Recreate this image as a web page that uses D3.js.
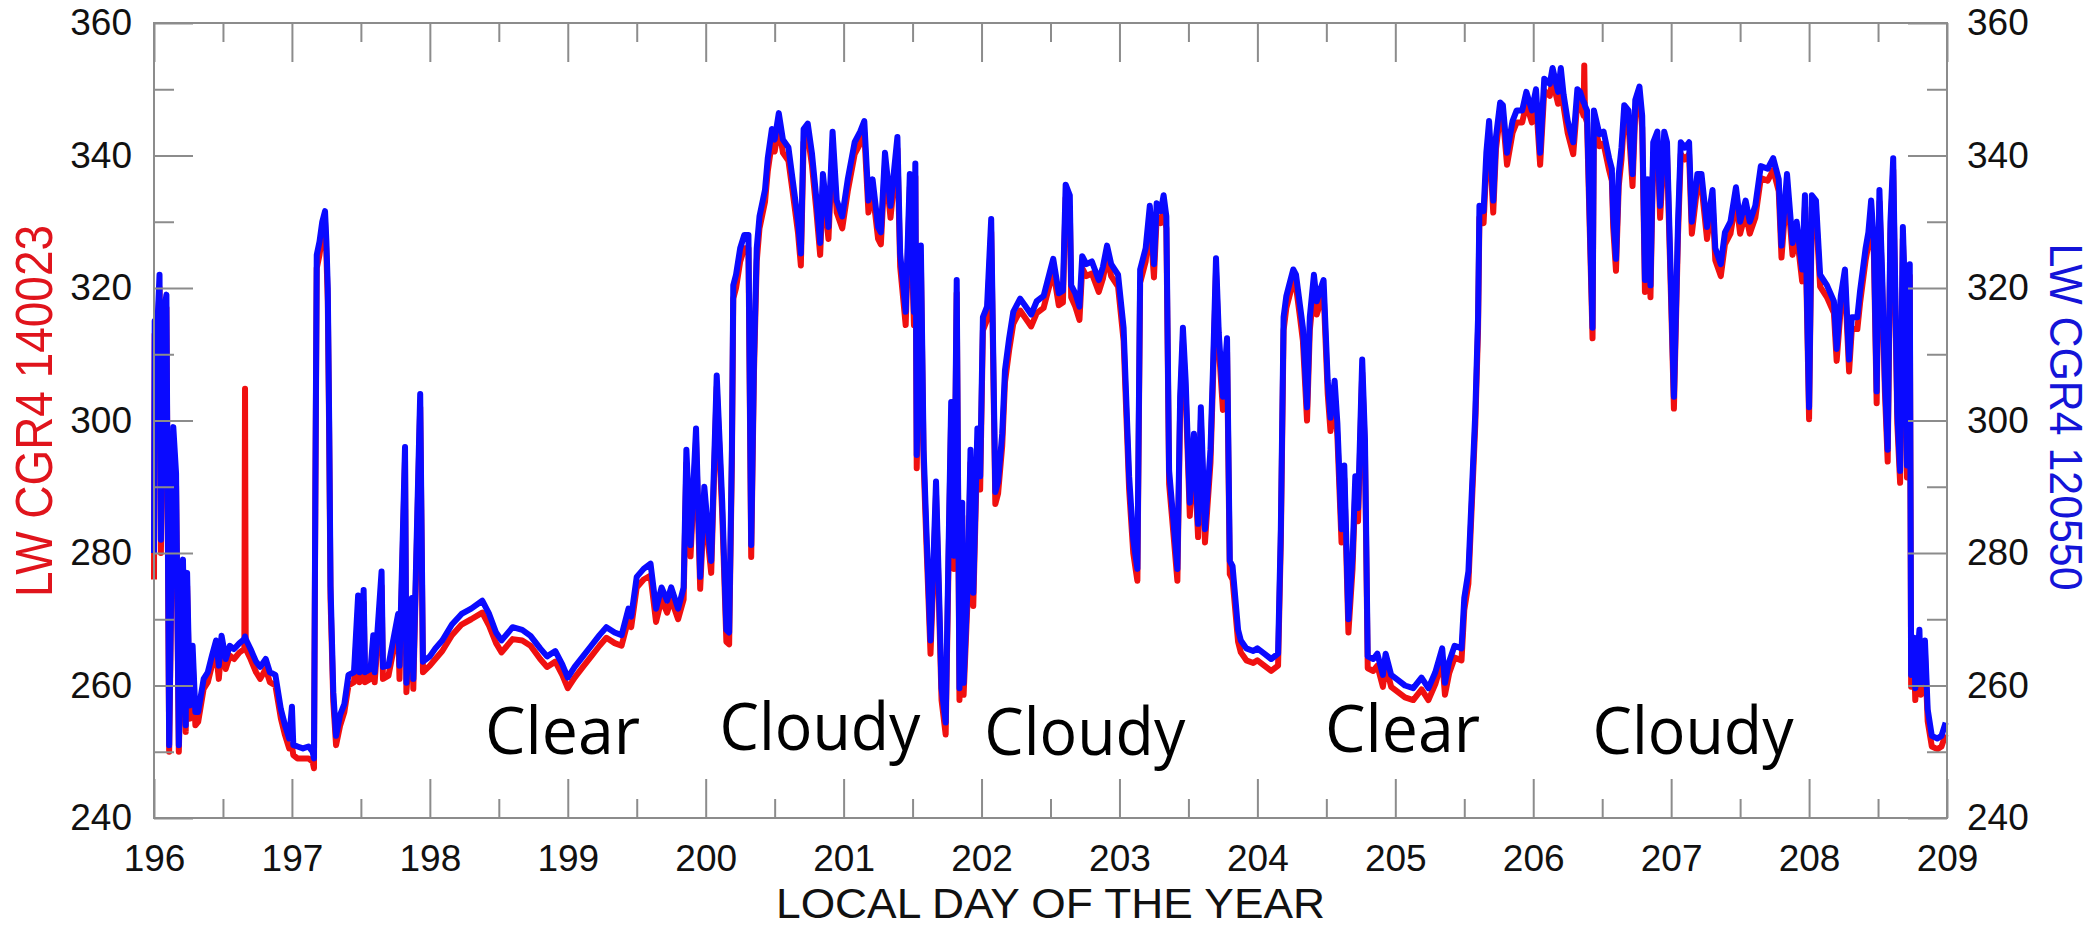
<!DOCTYPE html>
<html>
<head>
<meta charset="utf-8">
<script src="https://cdn.jsdelivr.net/npm/d3@7"></script>
<style>
  body { margin: 0; background: #fff; }
  svg { display: block; }
</style>
</head>
<body>
<svg id="chart"></svg>
<script>
// local day of year
const days = [
  196.000,196.005,196.02,196.04,196.05,196.07,196.09,196.11,196.14,196.16,196.18,196.21,196.23,196.24,196.26,196.28,196.30,196.32,196.36,196.39,
  196.42,196.45,196.47,196.49,196.52,196.55,196.58,196.62,196.655,196.66,196.665,196.70,196.74,196.77,196.81,196.84,196.88,196.92,196.95,196.98,
  197.00,197.01,197.04,197.08,197.12,197.15,197.16,197.17,197.18,197.20,197.22,197.24,197.25,197.26,197.27,197.28,197.30,197.32,197.35,197.38,
  197.41,197.45,197.48,197.49,197.52,197.53,197.57,197.59,197.60,197.65,197.66,197.70,197.77,197.78,197.82,197.83,197.87,197.88,197.93,197.95,
  198.00,198.04,198.09,198.16,198.23,198.30,198.38,198.43,198.48,198.52,198.60,198.67,198.73,198.80,198.85,198.91,198.96,199.00,199.05,199.11,
  199.17,199.23,199.28,199.34,199.39,199.44,199.46,199.50,199.55,199.60,199.64,199.68,199.72,199.75,199.80,199.84,199.86,199.89,199.93,199.96,
  199.99,200.02,200.04,200.08,200.12,200.15,200.17,200.19,200.20,200.22,200.25,200.28,200.31,200.33,200.35,200.37,200.39,200.43,200.45,200.48,
  200.50,200.53,200.56,200.60,200.63,200.67,200.69,200.71,200.74,200.77,200.80,200.83,200.85,200.89,200.92,200.95,200.99,201.03,201.08,201.12,
  201.15,201.18,201.21,201.25,201.27,201.30,201.34,201.39,201.41,201.45,201.48,201.51,201.52,201.53,201.56,201.58,201.60,201.63,201.65,201.67,
  201.69,201.71,201.74,201.76,201.78,201.80,201.82,201.84,201.86,201.87,201.90,201.92,201.94,201.97,201.99,202.01,202.04,202.07,202.10,202.12,
  202.15,202.17,202.20,202.23,202.28,202.32,202.36,202.40,202.45,202.49,202.52,202.56,202.59,202.61,202.64,202.65,202.68,202.71,202.73,202.76,
  202.80,202.85,202.88,202.91,202.94,202.99,203.03,203.07,203.10,203.13,203.15,203.19,203.22,203.25,203.27,203.30,203.32,203.34,203.36,203.39,
  203.42,203.44,203.46,203.48,203.51,203.54,203.57,203.59,203.62,203.66,203.68,203.70,203.72,203.75,203.78,203.80,203.82,203.86,203.88,203.92,
  203.97,204.00,204.05,204.10,204.15,204.17,204.19,204.21,204.23,204.26,204.28,204.31,204.33,204.36,204.38,204.41,204.43,204.46,204.48,204.51,
  204.53,204.56,204.58,204.61,204.63,204.66,204.69,204.71,204.73,204.76,204.78,204.80,204.84,204.87,204.91,204.93,204.97,205.02,205.07,205.13,
  205.19,205.24,205.29,205.34,205.36,205.39,205.43,205.48,205.50,205.53,205.55,205.58,205.60,205.61,205.64,205.66,205.68,205.71,205.73,205.76,
  205.78,205.81,205.85,205.88,205.92,205.95,205.99,206.02,206.05,206.08,206.12,206.14,206.18,206.20,206.22,206.25,206.29,206.32,206.34,206.365,
  206.37,206.375,206.39,206.43,206.44,206.48,206.51,206.55,206.57,206.58,206.60,206.62,206.64,206.66,206.69,206.72,206.74,206.77,206.79,206.81,
  206.83,206.85,206.87,206.90,206.92,206.95,206.97,207.00,207.02,207.05,207.07,207.10,207.13,207.15,207.19,207.22,207.26,207.30,207.32,207.36,
  207.39,207.43,207.47,207.50,207.54,207.57,207.61,207.65,207.70,207.74,207.78,207.80,207.84,207.88,207.91,207.95,207.97,208.00,208.02,208.05,
  208.08,208.13,208.18,208.20,208.23,208.26,208.29,208.31,208.35,208.37,208.41,208.43,208.45,208.47,208.49,208.51,208.53,208.55,208.57,208.59,
  208.61,208.62,208.64,208.66,208.68,208.70,208.71,208.73,208.74,208.76,208.77,208.80,208.81,208.84,208.86,208.89,208.93,208.96,208.99
]

// LW CGR4 120550 (blue, right axis)
const lw120550 = [
  280,315,312,322,282,316,319,251,299,292,251,279,254,277,257,266,256,256,261,262,
  264.5,266.8,263,267.5,264,266,265.5,266.4,267,267.4,267,265.5,263.6,262.8,264,262,261.6,256.4,254,252,
  256.8,251,250.8,250.5,250.8,250,249,290,325,327,330,331.6,327,320,300,275,259,252.4,255.6,257.2,
  261.6,262,273.6,262,274.4,262,262.5,267.6,262,277.2,262.8,263,270.8,263,296,260.4,273.2,261,304,263.6,
  264.4,265.6,266.8,269.2,270.8,271.6,272.8,270.8,268,266.8,268.8,268.4,267.5,265.6,264.4,265.2,263.2,261.2,262.8,264.4,
  266,267.6,268.8,268,267.6,271.6,270.4,276.4,277.6,278.4,271.6,274.8,272.8,274.8,271.6,274.8,295.6,281.2,298.8,276.4,
  290,282.8,278.8,306.8,287.6,268.4,268,295.6,320.4,322,326,328,328,281.2,309.2,326,330.8,334.8,339.6,344,
  342.4,346.4,342.4,341.2,336.4,330,325.2,344,344.8,340.4,334,326.8,337.2,329.2,343.6,333.2,330.8,336.4,342,343.6,
  345.2,333.2,336.4,329.2,328.4,340.4,332.4,342.8,325.2,316.4,337.2,316.4,338.8,294.8,326.4,295.6,283.6,266.8,278,290.8,
  275.6,259.6,254.4,279.6,302.8,279.6,321.2,259.6,287.6,260.4,275.6,295.6,274,298.8,291.6,315.6,317.2,330.4,289.2,290.8,
  298,307.6,312.4,316.4,318.4,317.2,316,318,318.8,322,324.4,319.2,319.6,335.6,334,320.4,319.2,317.2,324.8,323.6,
  324,321.2,323.2,326.4,323.6,322,314,291.6,282,277.6,322.8,326,332.4,323.6,332.8,331.6,334,330.8,292.4,285.2,
  277.6,303.6,314,306,287.6,298,284.4,302,283.6,295.6,309.2,324.5,313.2,303.6,312.4,278.8,278,268.4,266.8,265.6,
  265.2,265.6,264.8,264,264.8,283.6,315.6,318.8,320.4,322.8,322,317.2,314,302,315.6,322,318,320,321.2,306,
  300.4,306,299.6,283.6,293.2,270,279.6,291.6,286.8,309.2,297.2,264.4,264,264.8,261.6,264.8,261.6,260.8,260,259.6,
  261.2,259.6,262,265.6,260.4,263.6,266,265.6,273.2,277.2,286.8,301.2,315.6,332.4,331.6,340.4,345.2,333.2,342.8,348,
  347.6,340.4,345.2,346.8,346.8,349.6,346.8,350,340.4,351.6,350.8,353.2,349.6,353.2,349.2,345.2,342,350,349.6,348,
  348,347.5,346.8,314,346.8,343.2,343.6,339.6,338,330.8,324.4,337.2,341.2,347.6,346.8,337.2,348.4,350.4,346,321.2,
  336.4,320.4,342,343.6,332.4,343.6,342,319.6,303.6,330,342,341.2,342,330,337.2,337.2,329.2,334.8,326,323.6,
  328.4,330,335.2,330,333.2,330,332.4,338.4,338,339.6,336.4,326.4,337.2,326.8,330,322.8,334,302,334,333.2,
  322,320.4,318,310.8,318.8,322.8,309.2,315.6,315.6,319.6,326,328.4,333.2,326.8,304.4,334.8,322,306,295.6,330,
  339.6,326,301.2,292.4,329.2,315.6,293.2,323.6,261.6,267.2,259.6,268.4,260.4,266.8,256.4,252.4,252,252.4,254.4
]

// LW CGR4 140023 (red, left axis)
const lw140023 = [
  276,313,310,320,280,312,317,250,297,290,250,278,253,275,255,264,254,254.5,259.5,260.5,
  263,265,261,266,262.5,264.5,264,265,265.5,304.8,265.5,264,262,261,262.5,260.5,260,255,252.5,250.5,
  251,249.5,249,249,249,248.5,247.5,288,323,325,328,330,325,318,298,273,257.5,251,254,256,
  260,260.5,271.5,260.5,272.5,260.5,261,265.5,260.5,275,261,261.5,269,261,294,259,271,259.5,302,262,
  263,264,265.2,267.6,269.2,270,271,269,266.4,265,267,266.8,266,264,262.8,263.6,261.6,259.6,261.2,262.8,
  264.4,266,267.2,266.4,266,270,268.8,274.8,276,276.6,269.6,273,271,273,270,273,293.5,279.5,297,274.6,
  288,281,277,305,285.8,266.6,266.2,293.6,318.4,320,324,326,326,279.4,307.2,324,329,333,337.6,342,
  340.6,344.4,340.4,339.2,334.6,328.2,323.4,342,343,338.6,332.2,325,335.4,327.4,341.6,331.4,329,334.6,340.2,341.8,
  343.4,331.4,334.6,327.4,326.6,338.6,330.6,341,323.2,314.4,335.2,314.4,336.8,292.8,324.4,293.6,281.6,264.8,276,288.8,
  273.6,257.8,252.6,277.6,300.8,277.6,319.2,257.8,285.6,258.6,273.6,293.6,272,296.8,289.6,313.6,315.2,328.4,287.4,289,
  296.2,305.8,310.6,314.6,316.6,315.4,314.2,316.2,317,320.2,322.6,317.4,317.8,333.6,332,318.6,317.2,315.2,323,321.8,
  322.2,319.4,321.4,324.6,321.8,320.2,312,289.6,280,275.8,320.8,324,330.4,321.6,330.8,329.8,332,329,290.4,283.2,
  275.8,301.6,312,304,285.6,296,282.4,300,281.6,293.6,307.2,322.5,311.2,301.6,310.4,276.8,276,266.6,265,263.8,
  263.4,263.8,263,262.2,263,281.6,313.6,317,318.6,321,320.2,315.4,312,300,313.6,320.2,316,318,319.4,304,
  298.4,304,297.6,281.6,291.2,268,277.6,289.6,284.8,307.2,295.2,262.6,262.2,263,259.8,263,259.8,259,258.2,257.8,
  259.4,257.8,260.2,263.8,258.6,261.8,264.2,263.8,271.4,275.4,285,299.4,313.8,330.6,329.8,338.6,343.4,331.4,341,346.2,
  345.8,338.6,343.4,345,345,347.8,345,348.2,338.6,349.8,349,351.4,347.8,351.4,347.4,343.4,340.2,348.2,347.8,346,
  353.6,346,345,312.4,345,341.4,341.8,337.8,336.2,329,322.6,335.4,339.4,345.8,345,335.4,346.6,348.6,344.2,319.4,
  334.6,318.6,340.2,341.8,330.6,341.8,340.2,317.8,301.8,328.2,340.2,339.4,340.2,328.2,335.4,335.4,327.4,333,324.2,321.8,
  326.6,328.2,333.4,328.2,331.4,328.2,330.6,336.6,336.2,337.8,334.6,324.6,335.4,325,328.2,321,332.2,300.2,332.2,331.4,
  320.2,318.6,316.2,309,317,321,307.4,313.8,313.8,317.8,324.2,326.6,331.4,325,302.6,333,320.2,304.2,293.8,328.2,
  337.8,324.2,299.4,290.6,327.4,313.8,291.4,321.8,259.8,265.4,257.8,266.6,258.6,265,254.6,250.8,250.4,250.8,252.6
]

const dayTicks = [196, 197, 198, 199, 200, 201, 202, 203, 204, 205, 206, 207, 208, 209]
const halfDayTicks = [196.5, 197.5, 198.5, 199.5, 200.5, 201.5, 202.5, 203.5, 204.5, 205.5, 206.5, 207.5, 208.5]
const lwTicks = [240, 260, 280, 300, 320, 340, 360]
const lwMinorTicks = [250, 270, 290, 310, 330, 350]

const skyLabels = ["Clear", "Cloudy", "Cloudy", "Clear", "Cloudy"]
const skyLabelDays = [198.40, 200.10, 202.02, 204.49, 206.43]
const skyLabelLw = [249.7, 250.3, 249.5, 250.0, 249.7]

const svgWidth = 2100
const svgHeight = 928
const plot = { left: 154, right: 1947, top: 23, bottom: 818 }
const gridColor = "#8c8c8c"

let svg = d3.select("#chart")
  .attr("width", svgWidth)
  .attr("height", svgHeight)

svg.append("rect")
  .attr("width", svgWidth).attr("height", svgHeight)
  .attr("fill", "#fff")

let x = d3.scaleLinear().domain([196, 209]).range([plot.left, plot.right])
let y = d3.scaleLinear().domain([240, 360]).range([plot.bottom, plot.top])

// curves first, red beneath blue
let points = days.map((d, i) => ({ day: d, blue: lw120550[i], red: lw140023[i] }))

let redLine = d3.line().x(d => x(d.day)).y(d => y(d.red))
let blueLine = d3.line().x(d => x(d.day)).y(d => y(d.blue))

svg.append("path")
  .datum(points)
  .attr("d", redLine)
  .attr("fill", "none")
  .attr("stroke", "#f01010")
  .attr("stroke-width", 6)
  .attr("stroke-linejoin", "round")

svg.append("path")
  .datum(points)
  .attr("d", blueLine)
  .attr("fill", "none")
  .attr("stroke", "#0a0aff")
  .attr("stroke-width", 6)
  .attr("stroke-linejoin", "round")

// axes: ticks point inward on all four sides
function styleAxis(g) {
  g.select(".domain").remove()
  g.selectAll(".tick line").attr("stroke", gridColor).attr("stroke-width", 2)
  g.selectAll(".tick text")
    .attr("fill", "#111")
    .style("font-family", "'Liberation Sans', Arial, sans-serif")
    .style("font-size", "37px")
}

svg.append("g")
  .attr("transform", `translate(0,${plot.bottom})`)
  .call(d3.axisBottom(x).tickValues(dayTicks).tickFormat(d3.format("d")).tickSize(-39).tickPadding(27))
  .call(styleAxis)

svg.append("g")
  .attr("transform", `translate(0,${plot.bottom})`)
  .call(d3.axisBottom(x).tickValues(halfDayTicks).tickFormat("").tickSize(-19))
  .call(styleAxis)

svg.append("g")
  .attr("transform", `translate(0,${plot.top})`)
  .call(d3.axisTop(x).tickValues(dayTicks).tickFormat("").tickSize(-39))
  .call(styleAxis)

svg.append("g")
  .attr("transform", `translate(0,${plot.top})`)
  .call(d3.axisTop(x).tickValues(halfDayTicks).tickFormat("").tickSize(-19))
  .call(styleAxis)

svg.append("g")
  .attr("transform", `translate(${plot.left},0)`)
  .call(d3.axisLeft(y).tickValues(lwTicks).tickSize(-39).tickPadding(22))
  .call(styleAxis)

svg.append("g")
  .attr("transform", `translate(${plot.left},0)`)
  .call(d3.axisLeft(y).tickValues(lwMinorTicks).tickFormat("").tickSize(-20))
  .call(styleAxis)

svg.append("g")
  .attr("transform", `translate(${plot.right},0)`)
  .call(d3.axisRight(y).tickValues(lwTicks).tickSize(-39).tickPadding(20))
  .call(styleAxis)

svg.append("g")
  .attr("transform", `translate(${plot.right},0)`)
  .call(d3.axisRight(y).tickValues(lwMinorTicks).tickFormat("").tickSize(-20))
  .call(styleAxis)

svg.append("rect")
  .attr("x", plot.left).attr("y", plot.top)
  .attr("width", plot.right - plot.left).attr("height", plot.bottom - plot.top)
  .attr("fill", "none")
  .attr("stroke", gridColor)
  .attr("stroke-width", 2)

// axis titles
svg.append("text")
  .attr("x", (plot.left + plot.right) / 2)
  .attr("y", 918)
  .attr("text-anchor", "middle")
  .attr("textLength", 549)
  .attr("lengthAdjust", "spacingAndGlyphs")
  .style("font-family", "'Liberation Sans', Arial, sans-serif")
  .style("font-size", "42px")
  .attr("fill", "#111")
  .text("LOCAL DAY OF THE YEAR")

svg.append("text")
  .attr("transform", "translate(34,411) rotate(-90)")
  .attr("text-anchor", "middle")
  .attr("dominant-baseline", "central")
  .attr("textLength", 372)
  .attr("lengthAdjust", "spacingAndGlyphs")
  .style("font-family", "'Liberation Sans', Arial, sans-serif")
  .style("font-size", "52px")
  .attr("fill", "#e0141c")
  .text("LW CGR4 140023")

svg.append("text")
  .attr("transform", "translate(2066,417) rotate(90)")
  .attr("text-anchor", "middle")
  .attr("dominant-baseline", "central")
  .attr("textLength", 347)
  .attr("lengthAdjust", "spacingAndGlyphs")
  .style("font-family", "'Liberation Sans', Arial, sans-serif")
  .style("font-size", "46px")
  .attr("fill", "#1414d8")
  .text("LW CGR4 120550")

// sky condition notes
svg.selectAll(".sky")
  .data(skyLabels)
  .enter()
  .append("text")
  .attr("class", "sky")
  .attr("x", (d, i) => x(skyLabelDays[i]))
  .attr("y", (d, i) => y(skyLabelLw[i]))
  .attr("textLength", d => d == "Clear" ? 155 : 201)
  .attr("lengthAdjust", "spacingAndGlyphs")
  .style("font-family", "'Open Sans', 'Noto Sans', sans-serif")
  .style("font-size", "65px")
  .attr("fill", "#000")
  .text(d => d)
</script>
</body>
</html>
